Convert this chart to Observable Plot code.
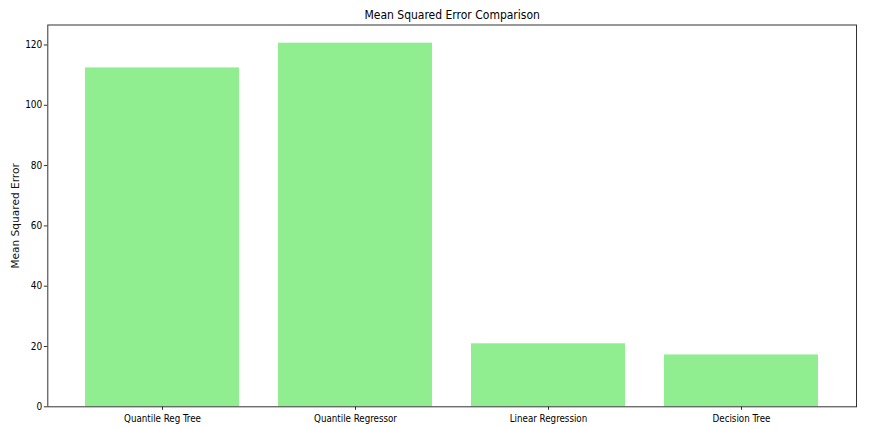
<!DOCTYPE html>
<html>
<head>
<meta charset="utf-8">
<script src="https://cdn.jsdelivr.net/npm/d3@7"></script>
<script src="https://cdn.jsdelivr.net/npm/@observablehq/plot@0.6"></script>
<style>
  html, body { margin: 0; padding: 0; background: #fff; }
  svg { display: block; }
</style>
</head>
<body>
<div id="chart"></div>
<script>
const models = ["Quantile Reg Tree", "Quantile Regressor", "Linear Regression", "Decision Tree"];
const mseValues = [112.4, 120.6, 20.9, 17.2];
const yTicks = [0, 20, 40, 60, 80, 100, 120];
const titleText = "Mean Squared Error Comparison";
const yLabel = "Mean Squared Error";

const data = models.map((m, i) => ({model: m, mse: mseValues[i]}));
const font = "'DejaVu Sans Condensed', 'DejaVu Sans', sans-serif";

const chart = Plot.plot({
  width: 870,
  height: 428,
  marginLeft: 47.3,
  marginRight: 14,
  marginTop: 24.5,
  marginBottom: 21.7,
  style: {fontFamily: font, fontSize: "10px", color: "#000", background: "#fff", overflow: "visible"},
  x: {domain: models, paddingInner: 0.2, paddingOuter: 0.185, label: null},
  y: {domain: [0, 126.63], label: null},
  marks: [
    Plot.barY(data, {x: "model", y: "mse", fill: "#90EE90"}),
    Plot.axisX({tickSize: 3.5, tickPadding: 5, label: null, fontSize: 9.7, stroke: "#333"}),
    Plot.axisY({ticks: yTicks, tickSize: 3.5, tickPadding: 2, label: null, fontSize: 10, stroke: "#333"}),
    Plot.frame({stroke: "#333", strokeWidth: 1}),
    Plot.text([titleText], {frameAnchor: "top", lineAnchor: "middle", dy: -9.5, text: d => d, fontSize: 12, fill: "#000"}),
    Plot.text([yLabel], {frameAnchor: "left", textAnchor: "middle", lineAnchor: "middle", dx: -32.5, rotate: -90, text: d => d, fontSize: 10.6, fontFamily: "'DejaVu Sans', sans-serif", fill: "#111"})
  ]
});
document.getElementById("chart").appendChild(chart);
</script>
</body>
</html>
